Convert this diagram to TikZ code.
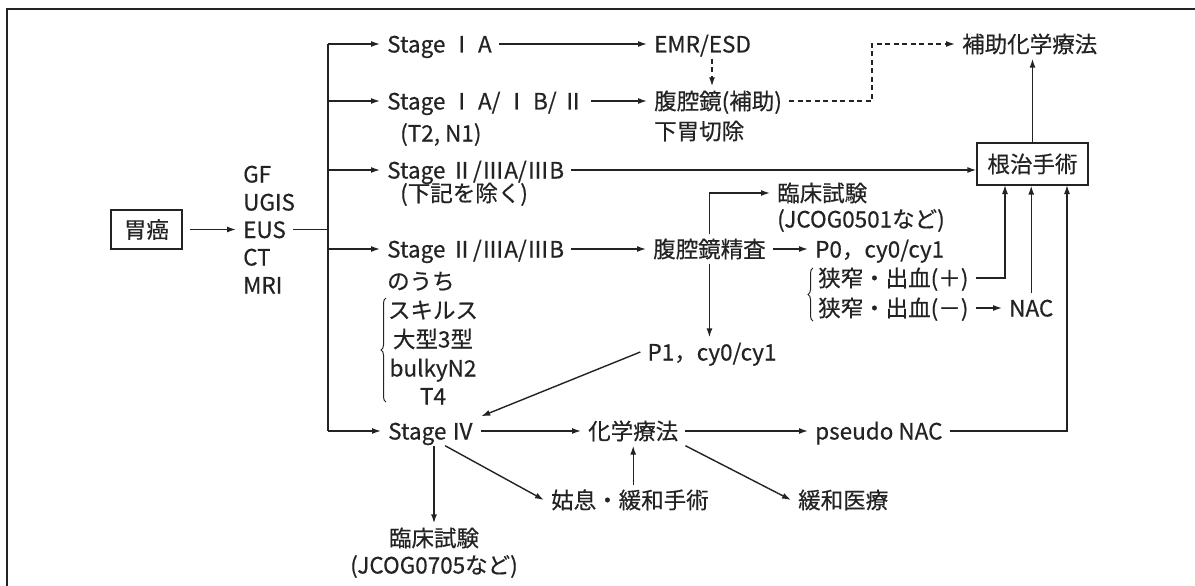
\documentclass[tikz,border=0pt]{standalone}
\usepackage{fontspec}
\setmainfont{Noto Sans CJK JP}[FakeBold=0.4]
\usetikzlibrary{arrows.meta,decorations.pathreplacing,calc}
\definecolor{ink}{RGB}{35,35,35}
\begin{document}
\begin{tikzpicture}[x=1pt,y=-1pt,
  txt/.style={inner xsep=7pt,inner ysep=4pt,text height=19pt,text depth=2pt,font=\fontsize{22.5pt}{28pt}\selectfont,text=ink},
  lt/.style={txt,anchor=west},
  boxed/.style={txt,draw=ink,line width=1.3pt,inner xsep=8pt,inner ysep=6pt},
  ln/.style={draw=ink,line width=1.4pt},
  arr/.style={ln,-{Latex[length=9pt,width=6pt]}},
  darr/.style={arr,dash pattern=on 5pt off 3.5pt},
  brc/.style={ln,line width=1pt,decorate,decoration={brace,amplitude=5pt,aspect=0.5}}
]
\useasboundingbox (0,0) rectangle (1195,586);
\fill[white] (0,0) rectangle (1195,586);
\draw[ink,line width=1.6pt] (7,586) -- (7,9) -- (1195,9);

% left part
\node[boxed,minimum width=71pt,minimum height=39pt] (gan) at (146.5,229.5) {胃癌};
\node[lt] (gf) at (236,174) {GF};
\node[lt] (ugis) at (236,202) {UGIS};
\node[lt] (eus) at (236,229.5) {EUS};
\node[lt] (ct) at (236,257) {CT};
\node[lt] (mri) at (236,285) {MRI};
\draw[arr,shorten <=7pt] (gan) -- (eus);

\coordinate (tr1) at (328,44);
\coordinate (tr2) at (328,101);
\coordinate (tr3) at (328,170);
\coordinate (tr4) at (328,249);
\coordinate (tr5) at (328,431);
\coordinate (trm) at (328,229.5);
\draw[ln] (tr1) -- (tr5);
\draw[ln] (eus.east) -- (trm);

% stages
\node[lt] (s1) at (380,44) {Stage Ⅰ A};
\node[lt] (s2) at (380,101) {Stage Ⅰ A/ Ⅰ B/ Ⅱ};
\node[lt] (s2b) at (393,133) {(T2, N1)};
\node[lt] (s3) at (380,170) {Stage Ⅱ/ⅢA/ⅢB};
\node[lt] (s3b) at (393,193) {(下記を除く)};
\node[lt] (s4) at (380,249) {Stage Ⅱ/ⅢA/ⅢB};
\node[lt] (s4b) at (380,281) {のうち};
\node[txt] (sk1) at (433,310) {スキルス};
\node[txt] (sk2) at (433,339) {大型3型};
\node[txt] (sk3) at (433,368) {bulkyN2};
\node[txt] (sk4) at (433,396) {T4};
\draw[brc] (386,402) -- (386,298);
\node[lt] (s5) at (381,431) {Stage Ⅳ};

\draw[arr] (tr1) -- (s1);
\draw[arr] (tr2) -- (s2);
\draw[arr] (tr3) -- (s3);
\draw[arr] (tr4) -- (s4);
\draw[arr] (tr5) -- (s5);

% upper right
\node[lt] (emr) at (647,44) {EMR/ESD};
\node[lt] (lapA) at (647,101) {腹腔鏡(補助)};
\node[lt] (lapB) at (647,131) {下胃切除};
\node[lt] (hojo) at (955,44) {補助化学療法};
\node[boxed,minimum width=111pt,minimum height=42pt] (kon) at (1032.5,164) {根治手術};

\draw[arr] (s1) -- (emr);
\draw[arr] (s2) -- (lapA);
\draw[darr] ($(emr.south west)+(65,0)$) -- ($(lapA.north west)+(65,0)$);
\coordinate (dk) at (872,101);
\draw[darr] (lapA.east) -- (dk) |- (hojo.west);
\draw[arr] (kon.north) -- (kon.north |- hojo.south);
\draw[arr] (s3.east) -- (s3.east -| kon.west);

% middle
\node[lt] (kfs) at (646,249) {腹腔鏡精査};
\node[lt] (p0) at (808,249) {P0，cy0/cy1};
\node[lt] (rin1) at (770,193) {臨床試験};
\node[lt] (jc1) at (770,219) {(JCOG0501など)};
\node[txt] (p1) at (712,352) {P1，cy0/cy1};
\node[lt] (nar1) at (811,278) {狭窄・出血(＋)};
\node[lt] (nar2) at (811,308) {狭窄・出血(－)};
\node[lt] (nac) at (1002,308) {NAC};
\draw[brc] (813,321) -- (813,268);

\draw[arr] (s4) -- (kfs);
\draw[arr] (kfs) -- (p0);
\draw[arr] (kfs.north) |- (rin1.west);
\draw[arr] (kfs.south) -- (kfs.south |- p1.north);
\coordinate (kb1) at (1005,185);
\coordinate (kb3) at (1067,185);
\draw[arr] (nar1.east) -| (kb1);
\draw[arr] (nar2) -- (nac);
\draw[arr] (nac.north) -- (nac.north |- kon.south);

% lower
\node[lt] (chemo) at (581,431) {化学療法};
\node[lt] (pseudo) at (808,431) {pseudo NAC};
\node[txt] (rin2) at (434,538) {臨床試験};
\node[txt] (jc2) at (434,565) {(JCOG0705など)};
\node[lt] (kos) at (544,500) {姑息・緩和手術};
\node[lt] (kanwa) at (791,500) {緩和医療};

\draw[arr] (p1.west) -- (s5.north east);
\draw[arr] (s5) -- (chemo);
\draw[arr] (chemo) -- (pseudo);
\draw[arr] (pseudo.east) -| (kb3);
\draw[arr] (s5.south -| rin2.north) -- (rin2.north);
\draw[arr] ($(s5.south)+(14,0)$) -- (kos.west);
\draw[arr] (kos.north -| chemo.south) -- (chemo.south);
\draw[arr] (chemo.south east) -- (kanwa.west);
\end{tikzpicture}
\end{document}
